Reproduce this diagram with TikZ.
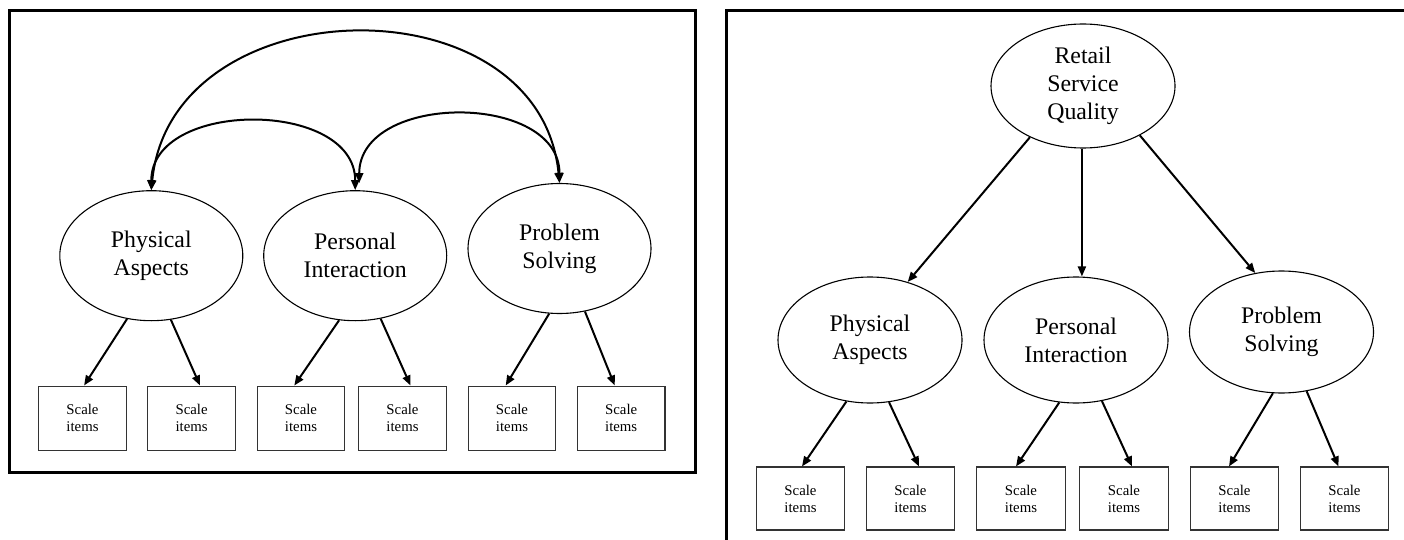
\documentclass[tikz,border=0pt]{standalone}
\usepackage{fontspec}
\setmainfont{Liberation Serif}
\usetikzlibrary{arrows.meta,calc,shapes.geometric}
\begin{document}
\begin{tikzpicture}[x=1pt,y=-1pt,
  lat/.style={ellipse, draw, line width=1.1pt, inner sep=0pt, align=center,
    minimum width=183pt, minimum height=130pt, font=\fontsize{23.8}{28}\selectfont},
  item/.style={rectangle, draw=black!80, line width=1.1pt, minimum width=87.5pt,
    minimum height=64.5pt, inner sep=0pt, align=center, font=\fontsize{14.8}{17}\selectfont},
  arr/.style={line width=2pt, -{Triangle[length=10pt,width=8pt]}},
  corr/.style={line width=2pt, {Triangle[length=10pt,width=8pt]}-{Triangle[length=10pt,width=8pt]}},
  frame/.style={line width=3pt}]
\useasboundingbox (0,0) rectangle (1404,540);
\clip (0,0) rectangle (1404,540);

% ---------- left panel ----------
\draw[frame] (9,11) rectangle (695,472);
\node[lat] (pa) at (151.3,255.7) {Physical\\Aspects};
\node[lat] (pi) at (355.2,255.7) {Personal\\Interaction};
\node[lat] (ps) at (559.5,248.5) {Problem\\Solving};
\node[item] (b1) at (82.5,418.3) {Scale\\items};
\node[item] (b2) at (191.6,418.3) {Scale\\items};
\node[item] (b3) at (301,418.3) {Scale\\items};
\node[item] (b4) at (402.5,418.3) {Scale\\items};
\node[item] (b5) at (512,418.3) {Scale\\items};
\node[item] (b6) at (621.2,418.3) {Scale\\items};

\draw[arr] (pa.-111) -- ($(b1.north)+(1.6,0)$);
\draw[arr] (pa.-73.9) -- ($(b2.north)+(8.4,0)$);
\draw[arr] (pi.-104.8) -- ($(b3.north)+(-6.7,0)$);
\draw[arr] (pi.-68) -- ($(b4.north)+(8,0)$);
\draw[arr] (ps.-99.7) -- ($(b5.north)+(-6.3,0)$);
\draw[arr] (ps.-68.7) -- ($(b6.north)+(-6.5,0)$);

\draw[corr] (pa.north) .. controls +(0,-91) and +(0,-91) .. (pi.north);
\draw[corr] ($(pi.north)+(4,-7)$) .. controls +(0,-91) and +(0,-91) .. (ps.north);
\draw[corr] (pa.north) .. controls +(20,-205) and +(-20,-205) .. (ps.north);

% ---------- right panel ----------
\draw[frame] (726,560) -- (726,11) -- (1420,11);
\node[lat, minimum width=184pt, minimum height=124pt] (rs) at (1083,86) {Retail\\Service\\Quality};
\node[lat, minimum width=184pt, minimum height=126pt] (rpa) at (870,340) {Physical\\Aspects};
\node[lat, minimum width=184pt, minimum height=126pt] (rpi) at (1076,340) {Personal\\Interaction};
\node[lat, minimum width=184pt, minimum height=122pt] (rps) at (1281.5,332) {Problem\\Solving};
\node[item, minimum width=88.5pt, minimum height=63pt] (c1) at (800.5,498.5) {Scale\\items};
\node[item, minimum width=88.5pt, minimum height=63pt] (c2) at (910.5,498.5) {Scale\\items};
\node[item, minimum width=88.5pt, minimum height=63pt] (c3) at (1021,498.5) {Scale\\items};
\node[item, minimum width=88.5pt, minimum height=63pt] (c4) at (1124,498.5) {Scale\\items};
\node[item, minimum width=88.5pt, minimum height=63pt] (c5) at (1234.5,498.5) {Scale\\items};
\node[item, minimum width=88.5pt, minimum height=63pt] (c6) at (1344.5,498.5) {Scale\\items};

\draw[arr] (rs.-136.6) -- (rpa.57.3);
\draw[arr] (rs.-91) -- (rs.-91 |- rpi.north);
\draw[arr] (rs.-41.9) -- (rps.114.2);

\draw[arr] (rpa.-111.3) -- ($(c1.north)+(1.5,0)$);
\draw[arr] (rpa.-73.5) -- ($(c2.north)+(8.5,0)$);
\draw[arr] (rpi.-105.7) -- ($(c3.north)+(-5,0)$);
\draw[arr] (rpi.-67.9) -- ($(c4.north)+(8,0)$);
\draw[arr] (rps.-98.4) -- ($(c5.north)+(-5.5,0)$);
\draw[arr] (rps.-67.7) -- ($(c6.north)+(-6,0)$);
\end{tikzpicture}
\end{document}
